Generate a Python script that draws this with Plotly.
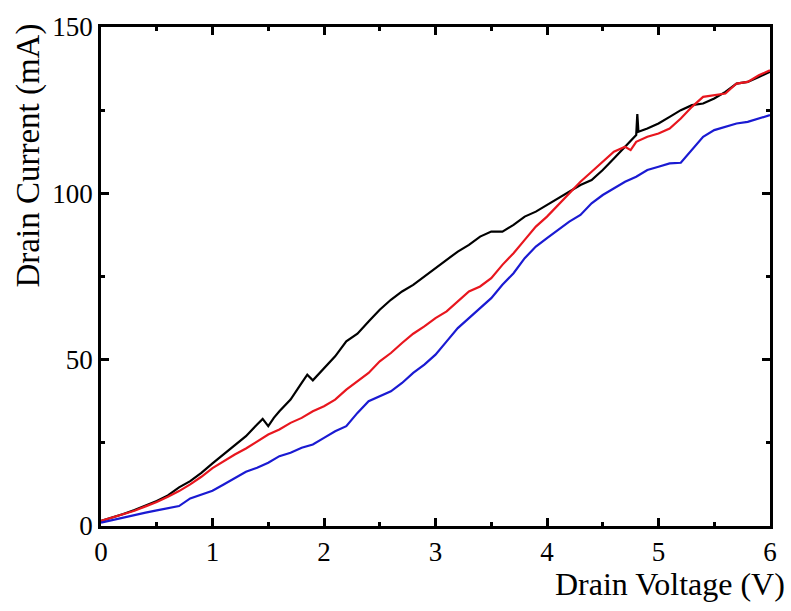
import plotly.graph_objects as go

# Black curve
v_black = [0.0, 0.1, 0.2, 0.3, 0.4, 0.5, 0.6, 0.7, 0.8, 0.9, 1.0, 1.1, 1.2, 1.3, 1.4, 1.45, 1.5, 1.55,
           1.6, 1.7, 1.8, 1.85, 1.9, 2.0, 2.1, 2.2, 2.3, 2.4, 2.5, 2.6, 2.7, 2.8, 2.9, 3.0, 3.1, 3.2,
           3.3, 3.4, 3.5, 3.6, 3.7, 3.8, 3.9, 4.0, 4.1, 4.2, 4.3, 4.4, 4.5, 4.6, 4.7, 4.8, 4.81, 4.82,
           4.9, 5.0, 5.1, 5.2, 5.3, 5.4, 5.5, 5.6, 5.7, 5.8, 5.9, 6.0]
i_black = [1.5, 2.5, 3.6, 4.8, 6.1, 7.5, 9.2, 11.6, 13.5, 16.0, 18.8, 21.5, 24.3, 27.0, 30.5, 32.2, 30.0, 32.5,
           34.5, 38.0, 43.0, 45.5, 43.8, 47.5, 51.0, 55.5, 57.8, 61.5, 65.0, 68.0, 70.5, 72.5, 75.0, 77.5, 80.0, 82.5,
           84.5, 87.0, 88.5, 88.5, 90.5, 93.0, 94.5, 96.5, 98.5, 100.5, 102.5, 104.0, 107.0, 110.5, 114.0, 117.5, 123.8, 118.5,
           119.5, 121.0, 123.0, 125.0, 126.5, 127.0, 128.5, 130.5, 133.0, 133.5, 135.0, 136.5]

# Red curve
v_red = [0.0, 0.1, 0.2, 0.3, 0.4, 0.5, 0.6, 0.7, 0.8, 0.9, 1.0, 1.1, 1.2, 1.3, 1.4, 1.5, 1.6, 1.7, 1.8, 1.9,
         2.0, 2.1, 2.2, 2.3, 2.4, 2.5, 2.6, 2.7, 2.8, 2.9, 3.0, 3.1, 3.2, 3.3, 3.4, 3.5, 3.6, 3.7, 3.8, 3.9,
         4.0, 4.1, 4.2, 4.3, 4.4, 4.5, 4.6, 4.7, 4.75, 4.8, 4.9, 5.0, 5.1, 5.2, 5.3, 5.4, 5.5, 5.6, 5.7, 5.8, 5.9, 6.0]
i_red = [1.5, 2.5, 3.5, 4.6, 5.9, 7.2, 8.8, 10.5, 12.5, 14.8, 17.4, 19.5, 21.5, 23.3, 25.5, 27.5, 29.0, 31.0, 32.5, 34.5,
         36.0, 38.0, 41.0, 43.5, 46.0, 49.5, 52.0, 55.0, 57.8, 60.0, 62.5, 64.5, 67.5, 70.5, 72.0, 74.5, 78.5, 82.0, 86.0, 90.0,
         93.0, 96.5, 100.0, 103.5, 106.5, 109.5, 112.5, 114.0, 113.0, 115.5, 117.0, 118.0, 119.5, 122.5, 126.0, 129.0, 129.5, 130.0, 133.0, 133.5, 135.5, 137.0]

# Blue curve
v_blue = [0.0, 0.1, 0.2, 0.3, 0.4, 0.5, 0.6, 0.7, 0.8, 0.9, 1.0, 1.1, 1.2, 1.3, 1.4, 1.5, 1.6, 1.7, 1.8, 1.9,
          2.0, 2.1, 2.2, 2.3, 2.4, 2.5, 2.6, 2.7, 2.8, 2.9, 3.0, 3.1, 3.2, 3.3, 3.4, 3.5, 3.6, 3.7, 3.8, 3.9,
          4.0, 4.1, 4.2, 4.3, 4.4, 4.5, 4.6, 4.7, 4.8, 4.9, 5.0, 5.1, 5.2, 5.3, 5.4, 5.5, 5.6, 5.7, 5.8, 5.9, 6.0]
i_blue = [1.0, 1.8, 2.6, 3.3, 4.0, 4.7, 5.3, 6.0, 8.3, 9.5, 10.6, 12.5, 14.5, 16.3, 17.5, 19.0, 21.0, 22.0, 23.5, 24.5,
          26.5, 28.5, 30.0, 34.0, 37.5, 39.0, 40.5, 43.0, 46.0, 48.5, 51.5, 55.5, 59.5, 62.5, 65.6, 68.5, 72.5, 76.0, 80.5, 84.0,
          86.5, 89.0, 91.5, 93.5, 97.0, 99.5, 101.5, 103.5, 105.0, 107.0, 108.0, 109.0, 109.2, 113.0, 117.0, 119.0, 120.0, 121.0, 121.5, 122.5, 123.5]

x_ticks = [0, 1, 2, 3, 4, 5, 6]
y_ticks = [0, 50, 100, 150]

FONT = "Liberation Serif, Times New Roman, serif"

fig = go.Figure()
fig.add_trace(go.Scatter(x=v_black, y=i_black, mode="lines", line=dict(color="#000000", width=2.2), showlegend=False))
fig.add_trace(go.Scatter(x=v_red, y=i_red, mode="lines", line=dict(color="#e8161e", width=2.2), showlegend=False))
fig.add_trace(go.Scatter(x=v_blue, y=i_blue, mode="lines", line=dict(color="#1a1ad2", width=2.2), showlegend=False))

axis_common = dict(
    showgrid=False, zeroline=False, showline=True, linecolor="black", linewidth=2.5,
    mirror="ticks", ticks="inside", tickcolor="black", tickwidth=2.5, ticklen=8,
    tickfont=dict(family=FONT, size=27, color="black"),
)

fig.update_xaxes(range=[0, 6], tickvals=x_ticks, ticktext=[str(t) for t in x_ticks],
                 minor=dict(dtick=0.5, ticks="inside", ticklen=4, tickwidth=2.5, tickcolor="black"),
                 **axis_common)
fig.update_yaxes(range=[0, 150], tickvals=y_ticks, ticktext=[str(t) for t in y_ticks],
                 minor=dict(dtick=25, ticks="inside", ticklen=4, tickwidth=2.5, tickcolor="black"),
                 **axis_common)

fig.add_annotation(text="Drain Voltage (V)", xref="paper", yref="paper", x=1.0254, y=-0.117,
                   xanchor="right", yanchor="middle", showarrow=False,
                   font=dict(family=FONT, size=32, color="black"))
fig.add_annotation(text="Drain Current (mA)", xref="paper", yref="paper", x=-0.108, y=0.742,
                   xanchor="center", yanchor="middle", textangle=-90, showarrow=False,
                   font=dict(family=FONT, size=33, color="black"))

fig.update_layout(width=791, height=611, margin=dict(l=101, r=21, t=17, b=85),
                  paper_bgcolor="white", plot_bgcolor="white")

fig.write_html("out.html")
